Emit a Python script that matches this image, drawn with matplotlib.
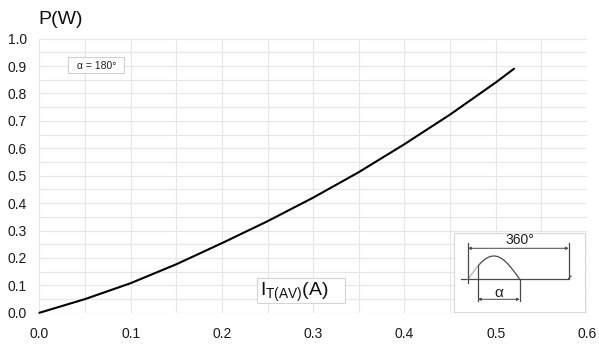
import matplotlib
matplotlib.use('Agg')
import matplotlib.pyplot as plt
import numpy as np
from matplotlib.patches import Rectangle

plt.rcParams['font.family'] = ['Liberation Sans', 'DejaVu Sans']
plt.rcParams['mathtext.fontset'] = 'custom'
plt.rcParams['mathtext.rm'] = 'Liberation Sans'
plt.rcParams['mathtext.it'] = 'Liberation Sans:italic'

# ---- data ----
current = [0.0, 0.05, 0.10, 0.15, 0.20, 0.25, 0.30, 0.35, 0.40, 0.45, 0.50, 0.52]
power = [0.0, 0.050, 0.108, 0.177, 0.254, 0.334, 0.420, 0.513, 0.615, 0.723, 0.840, 0.89]
x_ticks = [0.0, 0.1, 0.2, 0.3, 0.4, 0.5, 0.6]
x_tick_labels = ['0.0', '0.1', '0.2', '0.3', '0.4', '0.5', '0.6']
x_minor = [0.05, 0.15, 0.25, 0.35, 0.45, 0.55]
y_ticks = [0.0, 0.1, 0.2, 0.3, 0.4, 0.5, 0.6, 0.7, 0.8, 0.9, 1.0]
y_tick_labels = ['0.0', '0.1', '0.2', '0.3', '0.4', '0.5', '0.6', '0.7', '0.8', '0.9', '1.0']
y_minor = [0.05, 0.15, 0.25, 0.35, 0.45, 0.55, 0.65, 0.75, 0.85, 0.95]
y_label = 'P(W)'
x_label = r'I$_{\mathregular{T(AV)}}$(A)'
angle_label = 'α = 180°'

W, H = 599, 347
fig = plt.figure(figsize=(W / 100, H / 100), dpi=100)


def fx(x):
    return x / W


def fy(y):
    return 1 - y / H


ax = fig.add_axes([fx(39.4), fy(312.8), (587.0 - 39.4) / W, (312.8 - 38.6) / H])
ax.plot(current, power, color='black', lw=1.5, solid_capstyle='round',
        solid_joinstyle='round', clip_on=False, zorder=3)
ax.set_xlim(0, 0.6)
ax.set_ylim(0, 1.0)
ax.set_xticks(x_ticks)
ax.set_xticklabels(x_tick_labels)
ax.set_xticks(x_minor, minor=True)
ax.set_yticks(y_ticks)
ax.set_yticklabels(y_tick_labels)
ax.set_yticks(y_minor, minor=True)
ax.grid(which='both', color='#e6e6e6', lw=0.8)
ax.set_axisbelow(True)
for s in ax.spines.values():
    s.set_visible(False)
ax.tick_params(which='both', length=0, labelsize=10, labelcolor='#1a1a1a')
ax.tick_params(axis='y', pad=9)
ax.tick_params(axis='x', pad=10)

# axis titles
fig.text(fx(38.5), fy(24.5), y_label, fontsize=14, va='baseline', ha='left', color='#111111')

# x label box
fig.add_artist(Rectangle((fx(256.7), fy(303)), (345 - 256.7) / W, (303 - 278) / H,
                         transform=fig.transFigure, facecolor='white', edgecolor='#d4d4d4', lw=0.8, zorder=5))
fig.text(fx(260), fy(296.3), x_label, fontsize=14, va='baseline', ha='left', color='#111111', zorder=6)

# alpha box
fig.add_artist(Rectangle((fx(68.3), fy(73.3)), (124 - 68.3) / W, (73.3 - 57.3) / H,
                         transform=fig.transFigure, facecolor='white', edgecolor='#cfcfcf', lw=0.8, zorder=5))
fig.text(fx(96.5), fy(69.3), angle_label, fontsize=7.5, va='baseline', ha='center', color='#222222', zorder=6)

# waveform inset (decoration, drawn in pixel coordinates)
x0, x1, y0, y1 = 453.7, 585.3, 233.3, 311.7
dax = fig.add_axes([fx(x0), fy(y1), (x1 - x0) / W, (y1 - y0) / H])
dax.set_xlim(x0, x1)
dax.set_ylim(y1, y0)
dax.set_xticks([])
dax.set_yticks([])
dax.set_facecolor('white')
for s in dax.spines.values():
    s.set_color('#d8d8d8')
    s.set_linewidth(0.8)

dark = '#4a4a4a'
base_y = 279.3
# baseline
dax.plot([461.3, 568.7], [base_y, base_y], color=dark, lw=0.9)
# sine
xs = np.linspace(468, 519.7, 80)
ys = base_y - 23.3 * np.sin(np.pi * (xs - 468) / 51.7)
m = xs <= 478
dax.plot(xs[m], ys[m], color='#b5b5b5', lw=0.9)
dax.plot(xs[~m], ys[~m], color=dark, lw=0.9)
# vertical lines
dax.plot([468, 468], [243.3, 282.7], color=dark, lw=0.9)
dax.plot([568.7, 568.7], [243.3, 278.3], color=dark, lw=0.9)
dax.plot([568.7, 571], [278.3, 276], color=dark, lw=0.9)
fire_y = base_y - 23.3 * np.sin(np.pi * (478 - 468) / 51.7)
dax.plot([478, 478], [fire_y, 300.7], color=dark, lw=0.9)
dax.plot([519.7, 519.7], [base_y, 300.7], color=dark, lw=0.9)
# arrows
arrow = dict(arrowstyle='<|-|>', color=dark, lw=0.7, mutation_scale=4, shrinkA=0, shrinkB=0)
dax.annotate('', xy=(468, 248.3), xytext=(568.7, 248.3), arrowprops=arrow)
dax.annotate('', xy=(478, 299.3), xytext=(519.7, 299.3), arrowprops=arrow)
dax.text(519.5, 244.2, '360°', fontsize=10, ha='center', va='baseline', color='#222222')
dax.text(498.8, 297.0, 'α', fontsize=11, ha='center', va='baseline', color='#222222')

fig.savefig('out.png', dpi=100, facecolor='white')
